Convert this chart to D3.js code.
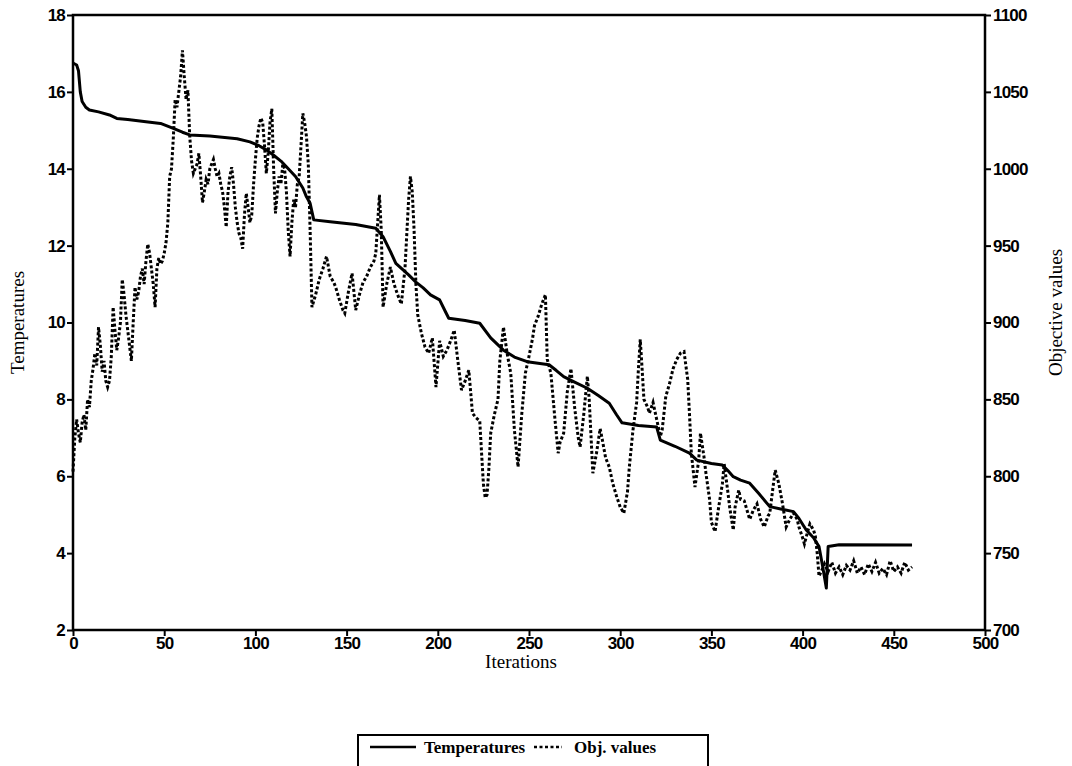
<!DOCTYPE html>
<html>
<head>
<meta charset="utf-8">
<script src="https://cdn.jsdelivr.net/npm/d3@7"></script>
<style>
  body { margin: 0; background: #fff; }
  svg { display: block; }
  .tick text { font-family: "Liberation Sans", Arial, sans-serif; font-weight: bold; font-size: 17px; fill: #000; letter-spacing: -0.8px; }
  .title { font-family: "Liberation Serif", "Times New Roman", serif; font-size: 19px; fill: #000; }
</style>
</head>
<body>
<svg id="chart" width="1072" height="766"></svg>
<script>
// temperature curve (left axis), [iteration, temperature]
var tempPoints = [
    [0, 16.75], [2, 16.7], [3, 16.55], [4, 16.0], [5, 15.75], [7, 15.6], [9, 15.53], [14, 15.48],
    [20, 15.4], [24, 15.31], [30, 15.28], [40, 15.22], [48, 15.18], [55, 15.05], [60, 14.95],
    [64, 14.88], [75, 14.85], [90, 14.78], [97, 14.7], [102, 14.6], [106, 14.49], [110, 14.35],
    [114, 14.2], [117, 14.05], [122, 13.8], [126, 13.5], [128, 13.27], [130, 13.1], [132, 12.67],
    [141, 12.62], [155, 12.55], [166, 12.45], [170, 12.23], [174, 11.85], [177, 11.54], [184, 11.24],
    [188, 11.05], [192, 10.9], [196, 10.72], [201, 10.59], [204, 10.3], [206, 10.11], [215, 10.05],
    [223, 9.98], [229, 9.6], [236, 9.28], [242, 9.1], [249, 8.98], [261, 8.9], [265, 8.75],
    [269, 8.59], [275, 8.45], [282, 8.29], [288, 8.1], [294, 7.9], [298, 7.6], [301, 7.39],
    [310, 7.32], [320, 7.28], [322, 6.94], [330, 6.78], [338, 6.6], [342, 6.42], [350, 6.33],
    [356, 6.29], [359, 6.15], [362, 5.99], [366, 5.9], [371, 5.82], [376, 5.55], [382, 5.21],
    [388, 5.15], [395, 5.08], [398, 4.9], [402, 4.6], [406, 4.4], [409, 4.17], [411, 3.65],
    [413, 3.09], [414, 4.17], [420, 4.22], [460, 4.21]
];

// objective values (right axis), [iteration, value]
var objPoints = [
    [0, 803], [1, 825], [2, 837], [3, 828], [4, 822], [5, 835], [6, 840], [7, 830], [8, 850],
    [9, 845], [10, 862], [11, 870], [12, 880], [13, 872], [14, 897], [15, 885], [16, 868],
    [17, 875], [18, 862], [19, 858], [20, 862], [21, 878], [22, 910], [23, 895], [24, 882],
    [25, 890], [26, 900], [27, 928], [28, 918], [29, 905], [30, 895], [31, 885], [32, 875],
    [33, 900], [34, 923], [35, 915], [36, 920], [37, 930], [38, 935], [39, 925], [40, 940],
    [41, 951], [42, 945], [43, 935], [44, 925], [45, 910], [46, 935], [47, 942], [48, 938],
    [49, 940], [50, 945], [51, 952], [52, 965], [53, 995], [54, 1000], [55, 1020], [56, 1045],
    [57, 1040], [58, 1050], [59, 1060], [60, 1077], [61, 1060], [62, 1045], [63, 1051],
    [64, 1021], [65, 1005], [66, 997], [67, 1000], [68, 1003], [69, 1010], [70, 995], [71, 978],
    [72, 985], [73, 993], [74, 990], [75, 1000], [76, 1003], [77, 1006], [78, 1000], [79, 995],
    [80, 997], [81, 990], [82, 985], [83, 975], [84, 962], [85, 985], [86, 995], [87, 1001],
    [88, 990], [89, 975], [90, 965], [91, 958], [92, 955], [93, 948], [94, 970], [95, 984],
    [96, 975], [97, 965], [98, 970], [99, 990], [100, 1006], [101, 1020], [102, 1028],
    [103, 1033], [104, 1030], [105, 1015], [106, 997], [107, 1010], [108, 1030], [109, 1039],
    [110, 1000], [111, 971], [112, 985], [113, 995], [114, 990], [115, 1003], [116, 1000],
    [117, 985], [118, 960], [119, 943], [120, 965], [121, 980], [122, 975], [123, 990],
    [124, 995], [125, 1015], [126, 1036], [127, 1030], [128, 1021], [129, 1003], [130, 960],
    [131, 910], [133, 918], [135, 928], [137, 935], [139, 943], [141, 930], [143, 926],
    [144, 923], [146, 915], [148, 908], [149, 906], [151, 920], [153, 932], [155, 908],
    [157, 918], [159, 926], [161, 930], [163, 936], [165, 940], [166, 945], [168, 983],
    [169, 960], [170, 910], [172, 925], [174, 936], [176, 925], [178, 918], [180, 912],
    [182, 935], [184, 980], [185, 995], [186, 985], [187, 960], [188, 925], [189, 905],
    [191, 893], [193, 884], [195, 880], [197, 890], [199, 858], [201, 888], [203, 878],
    [205, 882], [207, 888], [209, 895], [211, 875], [213, 856], [215, 862], [217, 869],
    [219, 841], [221, 838], [223, 836], [224, 815], [225, 795], [226, 786], [227, 788],
    [228, 805], [229, 828], [231, 840], [233, 850], [234, 875], [236, 897], [238, 880],
    [240, 867], [242, 830], [244, 806], [246, 840], [248, 867], [250, 878], [252, 890],
    [253, 898], [255, 904], [257, 912], [259, 918], [260, 876], [262, 867], [264, 840],
    [266, 815], [267, 822], [269, 828], [271, 855], [273, 870], [275, 845], [277, 825],
    [278, 819], [280, 840], [282, 865], [283, 850], [285, 802], [287, 815], [289, 831],
    [290, 825], [292, 812], [294, 806], [296, 795], [298, 787], [300, 780], [302, 776],
    [304, 790], [305, 806], [307, 830], [309, 848], [310, 870], [311, 889], [312, 870],
    [313, 850], [315, 845], [316, 841], [318, 848], [320, 837], [322, 826], [323, 830],
    [325, 852], [327, 860], [329, 870], [331, 876], [333, 880], [335, 881], [337, 863],
    [338, 840], [339, 815], [341, 793], [343, 810], [344, 828], [346, 812], [347, 802],
    [349, 785], [350, 770], [352, 764], [354, 780], [356, 795], [357, 808], [359, 790],
    [360, 780], [362, 765], [363, 780], [365, 791], [366, 785], [368, 784], [370, 776],
    [371, 772], [373, 778], [375, 782], [377, 772], [379, 767], [381, 774], [382, 776],
    [384, 795], [385, 804], [387, 795], [389, 782], [391, 767], [393, 772], [395, 776],
    [397, 772], [398, 767], [400, 760], [401, 756], [403, 765], [404, 769], [406, 765],
    [407, 761], [408, 750], [409, 735], [411, 740], [412, 743], [414, 738], [416, 744],
    [418, 737], [420, 741], [422, 736], [424, 742], [426, 739], [428, 745], [430, 737],
    [432, 741], [434, 736], [436, 743], [438, 738], [440, 744], [442, 737], [444, 740],
    [446, 736], [448, 745], [450, 738], [452, 741], [454, 737], [456, 744], [458, 739],
    [460, 741]
];

var xTicks = [0, 50, 100, 150, 200, 250, 300, 350, 400, 450, 500];
var tempTicks = [2, 4, 6, 8, 10, 12, 14, 16, 18];
var objTicks = [700, 750, 800, 850, 900, 950, 1000, 1050, 1100];

var plotLeft = 73, plotRight = 985, plotTop = 15, plotBottom = 630;

var svg = d3.select('#chart');

var x = d3.scaleLinear().domain([0, 500]).range([plotLeft, plotRight]);
var yT = d3.scaleLinear().domain([2, 18]).range([plotBottom, plotTop]);
var yO = d3.scaleLinear().domain([700, 1100]).range([plotBottom, plotTop]);

/* axes */
svg.append('g')
    .attr('transform', 'translate(0,' + plotBottom + ')')
    .call(d3.axisBottom(x).tickValues(xTicks).tickSize(6).tickPadding(1));

svg.append('g')
    .attr('transform', 'translate(' + plotLeft + ',0)')
    .call(d3.axisLeft(yT).tickValues(tempTicks).tickSize(6).tickPadding(2));

svg.append('g')
    .attr('transform', 'translate(' + plotRight + ',0)')
    .call(d3.axisRight(yO).tickValues(objTicks).tickFormat(d3.format('d')).tickSize(6).tickPadding(2));

svg.selectAll('.domain').remove();
svg.selectAll('.tick line').attr('stroke', '#000').attr('stroke-width', 2);

// frame
svg.append('rect')
    .attr('x', plotLeft).attr('y', plotTop)
    .attr('width', plotRight - plotLeft).attr('height', plotBottom - plotTop)
    .attr('fill', 'none').attr('stroke', '#000').attr('stroke-width', 2.5);

/* series */
var lineT = d3.line().x(function(d) { return x(d[0]); }).y(function(d) { return yT(d[1]); });
var lineO = d3.line().x(function(d) { return x(d[0]); }).y(function(d) { return yO(d[1]); });

svg.append('path')
    .datum(objPoints)
    .attr('d', lineO)
    .attr('fill', 'none')
    .attr('stroke', '#000')
    .attr('stroke-width', 3)
    .attr('stroke-dasharray', '3,2.2');

svg.append('path')
    .datum(tempPoints)
    .attr('d', lineT)
    .attr('fill', 'none')
    .attr('stroke', '#000')
    .attr('stroke-width', 3)
    .attr('stroke-linejoin', 'round');

/* titles */
svg.append('text').attr('class', 'title')
    .attr('x', (plotLeft + plotRight) / 2 - 8).attr('y', 668)
    .attr('text-anchor', 'middle')
    .text('Iterations');

svg.append('text').attr('class', 'title')
    .attr('transform', 'translate(24,' + ((plotTop + plotBottom) / 2) + ') rotate(-90)')
    .attr('text-anchor', 'middle')
    .text('Temperatures');

svg.append('text').attr('class', 'title')
    .attr('transform', 'translate(1062,' + ((plotTop + plotBottom) / 2 - 10) + ') rotate(-90)')
    .attr('text-anchor', 'middle')
    .text('Objective values');

/* legend */
var lg = svg.append('g');
lg.append('rect')
    .attr('x', 358).attr('y', 735).attr('width', 350).attr('height', 40)
    .attr('fill', 'none').attr('stroke', '#000').attr('stroke-width', 2);
lg.append('line')
    .attr('x1', 370).attr('x2', 416).attr('y1', 747).attr('y2', 747)
    .attr('stroke', '#000').attr('stroke-width', 2.5);
lg.append('text').attr('class', 'title')
    .attr('x', 424).attr('y', 753).style('font-size', '17px').style('font-weight', 'bold')
    .text('Temperatures');
lg.append('line')
    .attr('x1', 534).attr('x2', 562).attr('y1', 747).attr('y2', 747)
    .attr('stroke', '#000').attr('stroke-width', 2.5).attr('stroke-dasharray', '3,2.5');
lg.append('text').attr('class', 'title')
    .attr('x', 574).attr('y', 753).style('font-size', '17px').style('font-weight', 'bold')
    .text('Obj. values');
</script>
</body>
</html>
